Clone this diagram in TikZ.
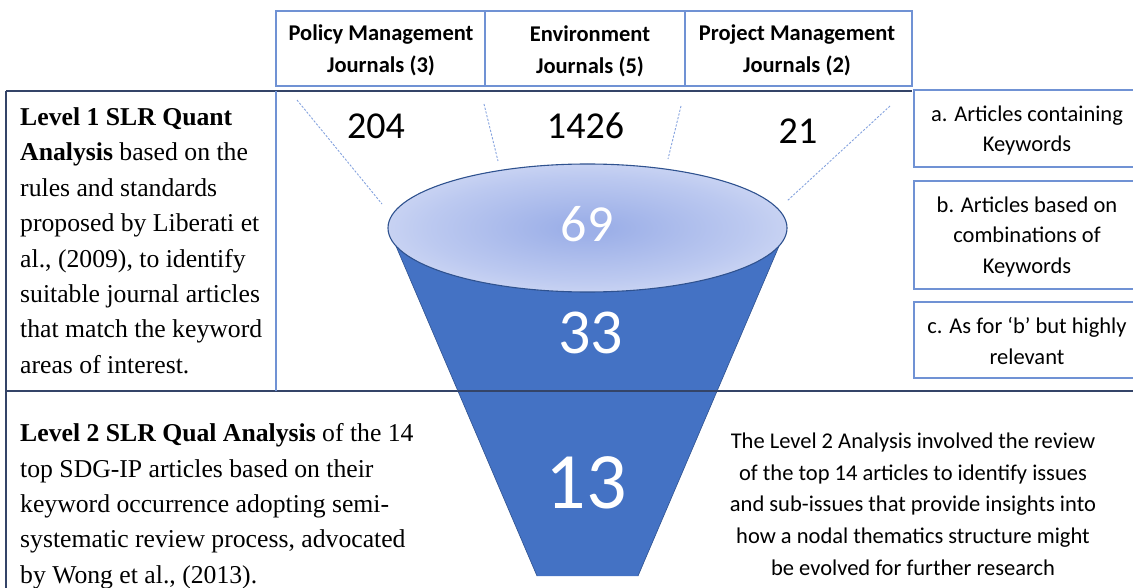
\documentclass[tikz,border=0pt]{standalone}
\usepackage{fontspec}
\setmainfont{Liberation Serif}
\newfontfamily\calfont{Carlito}
\definecolor{funnelcol}{RGB}{68,114,196}
\definecolor{edgecol}{RGB}{47,82,143}
\definecolor{boxcol}{RGB}{112,146,212}
\definecolor{rulecol}{RGB}{52,68,104}
\definecolor{dashcol}{RGB}{132,162,222}
\definecolor{ellin}{RGB}{157,176,232}
\definecolor{ellmid}{RGB}{188,201,240}
\definecolor{ellout}{RGB}{222,228,247}
\pgfdeclareradialshading{ellshade}{\pgfpoint{0bp}{0bp}}{color(0bp)=(ellin); color(3bp)=(ellin); color(20bp)=(ellmid); color(35bp)=(ellout); color(52bp)=(ellout)}
\begin{document}
\begin{tikzpicture}[x=1pt,y=-1pt,
  framebox/.style={draw=boxcol, line width=1.1pt, inner sep=0pt},
  hdrtext/.style={anchor=north, inner sep=0pt, align=center, font=\calfont\bfseries\fontsize{22.5}{32}\selectfont},
  sidetext/.style={anchor=north, inner sep=0pt, align=center, font=\calfont\fontsize{22.5}{30.5}\selectfont},
  numtext/.style={anchor=base, inner sep=0pt, font=\calfont\fontsize{38}{40}\selectfont},
  whitenum/.style={anchor=base, inner sep=0pt, text=white},
  bodytext/.style={anchor=north west, inner sep=0pt, align=left, font=\fontsize{25.7}{35.4}\selectfont},
  guide/.style={draw=dashcol, line width=0.9pt, dash pattern=on 2.2pt off 1.6pt}]
\useasboundingbox (0,0) rectangle (1133,588);
\clip (0,0) rectangle (1133,588);

% header boxes
\node[framebox, minimum width=209pt, minimum height=75pt] (pm) at (380.5,48.5) {};
\node[framebox, minimum width=200pt, minimum height=75pt] (env) at (585,48.5) {};
\node[framebox, minimum width=227pt, minimum height=75pt] (prj) at (798.5,48.5) {};
\node[hdrtext] (pmt) at (381,24.5) {Policy Management\\Journals (3)};
\node[hdrtext] (envt) at (590,25.5) {Environment\\Journals (5)};
\node[hdrtext] (prjt) at (797,24.5) {Project Management\\Journals (2)};

% table rules
\draw[rulecol, line width=1.6pt] (6,91) -- (912,91);
\draw[rulecol, line width=1.6pt] (6,391) -- (1133,391);
\draw[rulecol, line width=1.1pt] (6,91) -- (6,588);
\draw[boxcol, line width=1.1pt] (276,91) -- (276,391);

% right boxes
\node[framebox, minimum width=226pt, minimum height=77pt] (ba) at (1027,128.5) {};
\node[framebox, minimum width=226pt, minimum height=108pt] (bb) at (1027,235) {};
\node[framebox, minimum width=226pt, minimum height=76pt] (bc) at (1027,340) {};
\node[sidetext] (bat) at (1027,105.5) {a. Articles containing\\Keywords};
\node[sidetext] (bbt) at (1027,196.5) {b. Articles based on\\combinations of\\Keywords};
\node[sidetext] (bct) at (1027,317.5) {c. As for ‘b’ but highly\\relevant};

% guide lines
\coordinate (d1a) at (297,100); \coordinate (d1b) at (382,204);
\coordinate (d2a) at (484,104); \coordinate (d2b) at (498,161);
\coordinate (d3a) at (681,106); \coordinate (d3b) at (668,159);
\coordinate (d4a) at (890,106); \coordinate (d4b) at (787,201);
\draw[guide] (d1a) -- (d1b);
\draw[guide] (d2a) -- (d2b);
\draw[guide] (d3a) -- (d3b);
\draw[guide] (d4a) -- (d4b);

% funnel
\coordinate (fl) at (395.5,245);
\coordinate (fbl) at (537,576);
\coordinate (fbr) at (638,576);
\coordinate (fr) at (779.5,245);
\fill[funnelcol] (fl) -- (fbl) -- (fbr) -- (fr) -- cycle;
\draw[edgecol, line width=0.6pt] (fl) -- (fbl) (fbr) -- (fr);
\draw[rulecol, line width=1.6pt] (458,391) -- (718,391);
\path[draw=edgecol, line width=1.1pt, shading=ellshade]
  (587.5,228) ellipse [x radius=199.5, y radius=64];

% numbers
\node[numtext] (n204) at (376,139) {204};
\node[numtext] (n1426) at (585.5,139) {1426};
\node[numtext] (n21) at (798,144) {21};
\node[whitenum, font=\calfont\fontsize{52}{54}\selectfont] (n69) at (587,242) {69};
\node[whitenum, font=\calfont\fontsize{64}{66}\selectfont] (n33) at (590.5,353) {33};
\node[whitenum, font=\calfont\fontsize{80}{82}\selectfont] (n13) at (586,508) {13};

% left texts
\node[bodytext] (lv1) at (20,107.4) {\textbf{Level 1 SLR Quant}\\\textbf{Analysis} based on the\\rules and standards\\proposed by Liberati et\\al., (2009), to identify\\suitable journal articles\\that match the keyword\\areas of interest.};
\node[bodytext] (lv2) at (20,423.4) {\textbf{Level 2 SLR Qual Analysis} of the 14\\top SDG-IP articles based on their\\keyword occurrence adopting semi-\\systematic review process, advocated\\by Wong et al., (2013).};

% right bottom text
\node[anchor=north, inner sep=0pt, align=center, font=\calfont\fontsize{22.5}{31.7}\selectfont] (lv2r) at (913,432.5) {The Level 2 Analysis involved the review\\of the top 14 articles to identify issues\\and sub-issues that provide insights into\\how a nodal thematics structure might\\be evolved for further research};
\end{tikzpicture}
\end{document}
